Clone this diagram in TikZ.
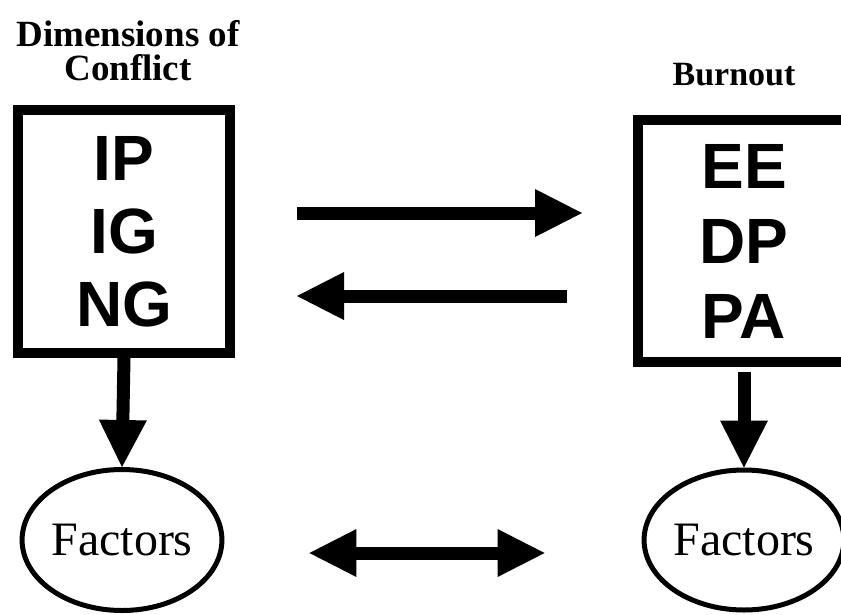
\documentclass[tikz,border=0pt]{standalone}
\usepackage{fontspec}
\setmainfont{Liberation Serif}
\newfontfamily\boxfont{Liberation Sans}
\usetikzlibrary{arrows.meta,shapes.geometric}

\begin{document}
\begin{tikzpicture}[x=1pt,y=-1pt,
  title/.style={inner sep=0pt, align=center},
  varbox/.style={draw, line width=10pt, minimum width=212pt, inner sep=0pt, align=center},
  factor/.style={draw, ellipse, line width=5pt, inner sep=0pt, font=\fontsize{48}{50}\selectfont},
  bigtip/.tip={Triangle[length=47pt,width=48pt,line width=0pt]},
  bigarrow/.style={line width=13pt, -bigtip},
  dblarrow/.style={line width=13pt, bigtip-bigtip}
]
\useasboundingbox (0,0) rectangle (841,614);
\clip (0,0) rectangle (841,614);

% headings
\node[title, anchor=north, font=\bfseries\fontsize{37}{34}\selectfont] (dimlabel) at (128,20.5) {Dimensions of\\Conflict};
\node[title, anchor=base, font=\bfseries\fontsize{34}{36}\selectfont] (burnlabel) at (734,85) {Burnout};

% the two lists of dimensions
\node[varbox, minimum height=243pt, font=\boxfont\bfseries\fontsize{64}{73}\selectfont] (lb) at (124,231.5) {IP\\IG\\NG};
\node[varbox, minimum height=242pt, font=\boxfont\bfseries\fontsize{64}{75}\selectfont] (rb) at (744,241) {EE\\DP\\PA};

% factor ellipses
\node[factor, minimum width=179pt, minimum height=141pt] (le) at (122,540) {Factors};
\node[factor, minimum width=183pt, minimum height=140pt] (re) at (744,540) {Factors};

% rows of the horizontal arrows
\coordinate (rowA) at (0,213);
\coordinate (rowB) at (0,296);
\coordinate (rowC) at (0,553);

% arrows
\draw[bigarrow, shorten <=62pt, shorten >=51pt] (lb.east |- rowA) -- (rb.west |- rowA);
\draw[bigarrow, shorten <=66pt, shorten >=62pt] (rb.west |- rowB) -- (lb.east |- rowB);
\draw[bigarrow] (lb.south) -- (le.north);
\draw[bigarrow, shorten <=5pt] (rb.south) -- (re.north);
\draw[dblarrow, shorten <=85pt, shorten >=97pt] (le.east |- rowC) -- (re.west |- rowC);
\end{tikzpicture}
\end{document}
